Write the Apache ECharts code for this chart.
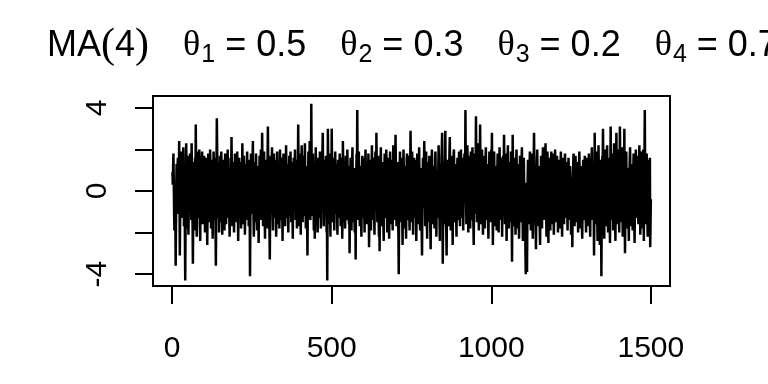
<!DOCTYPE html>
<html><head><meta charset="utf-8">
<script src="https://cdn.jsdelivr.net/npm/echarts@6/dist/echarts.min.js"></script>
<style>html,body{margin:0;padding:0;background:#fff}#c{width:768px;height:384px}</style>
</head><body><div id="c"></div>
<script>
// MA(4) simulated series (t = 1..1500)
const seg01 = [0.9,0.3,1.1,1.8,0.6,-0.8,-1.9,-0.7,0.4,-1.2,-3.6,-1.8,0.2,1.3,0.5,-0.4,1.2,1.6,-0.3,-1.1,
0.7,2.4,0.1,-3.1,-1.4,0.8,1.9,0.3,-0.9,1.5,0.6,-1.3,-0.2,1.4,2.1,0.4,-1.7,-0.6,1.0,-2.3,
-4.3,-1.5,0.9,2.3,1.1,-0.5,-1.8,0.6,1.7,-0.3,-2.1,-0.8,1.3,0.2,-1.0,1.8,0.9,-0.6,0.4,-1.4,
2.3,1.2,-0.7,-1.6,-3.5,-1.1,0.5,1.4,-0.2,-1.9,0.8,1.6,0.3,3.2,1.5,-0.4,-2.2,-0.9,0.7,1.9,
0.2,-1.3,-0.5,1.1,2.0,0.6,-1.7,-2.4,-0.3,1.2,0.4,-0.8,1.5,1.9,-0.1,-1.6,-0.7,0.9,0.3,1.7];
const seg02 = [0.5,-1.1,-2.0,0.2,1.6,0.9,-0.4,1.3,-1.2,-2.6,-0.9,0.7,1.8,0.4,-0.6,1.1,-1.5,-0.3,2.0,0.8,
-0.7,-1.8,0.3,1.5,0.6,-1.0,-2.3,-0.5,1.2,1.9,0.1,-1.4,0.9,-0.2,1.6,-1.9,-3.6,-1.2,1.0,3.5,
2.1,0.4,-1.3,-0.6,1.4,0.2,-2.0,-0.8,0.7,1.7,-0.1,-1.5,0.5,1.9,0.8,-0.9,-2.1,0.3,1.2,-0.4,
1.5,0.6,-1.2,-1.9,0.4,1.8,1.0,-0.5,-1.6,0.2,1.3,-0.7,0.9,2.0,0.1,-1.3,-0.6,1.1,-1.0,-2.2,
-1.4,0.6,1.6,-0.2,0.8,2.6,1.2,-0.8,-1.7,0.3,1.4,0.5,-1.1,-2.0,-0.4,1.0,1.8,0.2,-0.9,0.6];
const seg03 = [-1.5,-0.3,1.2,1.9,0.4,-1.0,-2.4,-0.6,0.8,1.6,0.3,-1.2,0.5,1.4,-0.8,-1.8,0.1,1.1,0.7,2.3,
1.0,-0.5,-1.6,0.2,1.7,0.9,-0.7,-2.1,-1.0,0.6,1.3,-0.2,-1.4,0.8,1.9,0.3,-0.9,1.2,-0.4,-1.7,
0.4,1.5,-0.8,-4.1,-1.6,0.3,1.8,0.7,-1.1,-0.3,1.0,1.6,2.4,0.5,-1.3,-2.2,-0.6,0.9,1.4,-0.2,
-1.5,0.6,1.8,0.2,-1.0,-1.9,0.3,1.2,0.8,-0.6,-2.5,-1.1,0.7,1.7,0.4,-0.8,1.3,2.0,-0.1,-1.4,
0.9,2.8,1.1,-0.4,-1.7,-0.6,1.0,1.9,0.2,-1.2,-2.3,0.5,1.5,0.6,-0.9,1.2,-0.3,-1.8,1.6,3.1];
const seg04 = [1.4,-0.2,-1.5,-0.7,-2.0,-3.3,-1.2,0.6,1.7,0.9,-0.5,1.3,2.1,0.4,-1.1,-1.9,0.2,1.0,1.8,-0.3,
-1.3,0.7,1.5,0.1,-0.8,-2.2,-0.9,0.8,1.9,1.1,-0.4,-1.6,0.3,1.2,-0.6,-1.8,0.5,2.0,0.9,-0.7,
-1.4,0.2,1.6,0.6,-1.0,-2.4,-0.3,1.1,1.8,0.4,-0.9,1.4,-0.1,-1.7,-0.5,0.9,2.2,1.0,-0.6,-1.3,
0.5,1.3,-0.8,-2.0,-0.2,1.0,1.7,0.3,-1.2,0.6,1.9,-0.4,-1.5,0.1,1.4,0.7,-1.1,-2.3,-0.7,0.8,
1.6,0.2,-0.9,1.2,2.0,0.5,-1.4,-0.6,0.9,-0.3,-1.8,0.4,1.5,1.0,3.2,1.3,-0.5,-1.7,0.6,1.8];
const seg05 = [0.3,-1.0,-2.1,-0.4,1.1,2.2,0.8,-0.6,-1.5,0.2,1.7,0.6,-1.2,-0.3,1.4,2.3,0.5,-0.9,-1.8,0.7,
1.2,-0.2,-1.6,-3.1,-1.0,0.6,1.9,1.0,-0.5,1.3,2.4,0.3,-1.4,-0.7,0.9,4.2,1.6,-0.4,-1.2,0.5,
1.8,0.7,-0.8,-1.9,0.1,-1.1,-2.3,-0.4,1.0,2.1,0.6,-0.7,1.2,0.2,-1.5,-2.0,0.4,1.6,0.9,-0.3,
-1.3,0.8,1.9,0.3,-1.0,-1.8,0.5,1.4,-0.2,1.1,2.0,2.8,1.0,-0.6,-1.7,-0.4,0.9,1.5,-0.1,-1.2,
0.6,1.7,-0.5,-2.0,-1.1,-4.3,-0.8,3.0,1.2,-0.3,-1.6,0.4,1.8,0.7,-0.9,-2.2,0.1,1.3,0.5,3.0];
const seg06 = [1.4,-0.4,-1.5,0.2,1.6,0.8,-0.7,-1.9,-0.2,1.0,1.9,0.5,-1.1,-0.4,1.3,0.3,-1.4,-2.1,0.6,1.5,
0.9,-0.6,-1.3,0.4,1.8,1.1,-0.3,-1.7,-0.8,0.7,1.6,-0.5,-2.3,-0.9,2.4,1.2,-0.1,-1.5,0.5,1.4,
-0.2,-1.8,0.3,1.7,0.8,-0.7,-1.4,0.6,2.0,0.4,-1.0,-0.3,1.2,-1.6,-0.8,-3.0,-1.2,0.5,1.6,0.9,
-0.4,-1.9,0.2,1.3,2.1,0.6,-0.9,-1.5,0.8,1.1,-0.6,-2.0,-0.7,-1.1,-3.3,-0.5,1.0,1.8,0.7,3.9,
1.5,-0.3,-1.4,0.4,1.9,0.9,-0.8,-1.7,0.1,1.2,0.6,-1.0,-2.2,-0.4,1.1,1.7,0.3,-1.3,0.8,1.6];
const seg07 = [0.2,-1.1,-2.0,0.5,1.4,2.0,0.7,-0.6,-1.6,0.3,1.2,-0.4,-1.3,0.9,1.8,-0.2,-2.7,-1.2,0.6,1.5,
0.8,-0.7,-1.9,-0.3,1.1,2.2,1.0,-0.5,-1.4,0.4,1.6,0.2,-1.0,-2.1,0.0,1.3,1.9,0.6,-0.8,2.8,
1.2,-0.3,-1.5,0.7,1.7,0.4,-1.2,-2.2,-0.6,-2.9,-1.0,0.8,1.5,2.1,0.3,-0.9,-1.7,0.2,1.4,0.6,
-0.5,-1.8,-2.4,0.1,1.0,1.8,0.7,-0.4,-1.3,0.5,2.0,1.1,-0.6,-2.0,-0.8,0.9,1.6,0.2,-1.1,-2.3,
-0.2,1.2,1.9,0.4,-0.7,-1.6,0.3,1.5,0.8,-1.0,-1.9,0.6,2.2,1.3,-0.2,-1.4,0.1,1.0,1.7,2.7];
const seg08 = [1.1,-0.4,-1.7,-0.8,0.6,1.4,0.2,-1.2,-2.2,-4.0,-1.6,0.3,1.3,1.9,0.5,-0.8,-1.5,0.7,1.6,-0.1,
-1.3,-2.6,-0.7,0.9,2.0,0.8,-0.5,-1.8,0.2,1.2,0.4,-1.0,-2.3,-0.2,1.5,1.8,0.3,-1.4,-0.6,0.9,
1.7,0.5,-1.1,-1.9,0.1,1.3,2.9,1.2,-0.3,-1.5,0.6,1.9,0.7,-0.9,-2.1,-0.4,1.0,1.6,-0.2,-1.3,
0.4,1.5,0.8,-0.7,-2.4,-1.1,0.5,1.8,1.0,-0.5,-1.6,0.3,1.4,2.1,0.6,-1.0,-1.9,0.2,1.1,-0.6,
-1.4,-2.0,-3.1,-0.9,0.7,1.6,0.4,-0.8,1.2,2.4,0.9,-0.4,-1.7,-0.2,1.3,1.9,0.1,-1.2,-2.3,0.5];
const seg09 = [1.4,0.6,-0.7,-1.5,0.3,1.7,0.8,-0.6,-1.9,-2.8,-1.0,0.5,1.6,2.0,0.4,-0.9,-1.6,0.2,1.2,0.7,
-0.5,-1.8,0.1,1.5,1.9,0.6,-1.1,-2.2,-0.3,1.0,0.4,-1.3,-0.6,1.1,2.2,1.0,-0.4,-1.7,-2.4,0.3,
1.3,0.5,-0.8,1.6,2.1,2.8,-0.5,-3.5,-1.4,0.6,1.4,-0.2,-1.6,0.9,1.8,2.9,0.7,-1.2,-2.0,-3.1,
-1.1,0.4,1.5,0.8,-0.6,-1.7,0.2,1.1,1.9,2.6,0.9,-0.7,-1.9,-0.3,1.0,1.7,0.3,-1.0,-2.6,-0.8,
0.7,1.8,2.0,0.5,-0.9,-1.5,0.1,1.3,0.6,-1.2,-2.2,-0.4,0.9,1.6,-0.1,-1.4,-0.6,1.1,1.9,0.4];
const seg10 = [-0.8,-1.7,0.2,1.4,2.0,0.7,-0.5,-1.3,0.6,1.6,-0.2,-1.9,-0.9,0.5,1.2,1.8,0.3,1.0,3.9,1.4,
-0.3,-1.6,0.4,1.5,2.2,0.9,-0.7,-2.0,-0.4,1.1,1.7,0.2,-1.2,-1.8,0.5,1.9,1.0,-0.6,-1.4,0.8,
2.1,0.6,-0.9,-1.7,-2.6,-0.5,1.2,1.8,0.4,-1.1,0.9,3.6,1.5,-0.2,-1.5,0.3,1.6,2.3,0.7,-0.8,
-1.9,-0.6,0.8,1.4,3.2,1.1,-0.4,-1.6,0.5,1.8,2.0,0.3,-1.2,-2.1,-0.2,1.0,1.7,0.6,-1.0,-1.8,
0.4,1.5,2.1,0.8,-0.7,-1.4,0.2,1.3,0.5,-1.1,-2.3,-0.9,0.7,1.9,1.2,-0.3,-1.5,0.1,1.4,2.0];
const seg11 = [0.6,2.8,0.9,-0.8,-2.6,-1.2,0.3,1.5,1.9,0.4,-1.0,-1.7,0.2,1.2,0.7,-0.5,-1.9,-0.3,1.1,1.8,
0.5,-0.9,-2.0,-0.4,1.0,2.1,1.2,-0.2,-1.4,0.3,1.6,0.8,-0.7,-2.2,-0.6,0.9,1.7,0.2,1.3,2.7,
1.0,-0.5,-1.6,0.4,1.8,0.6,-1.1,-2.4,-0.8,0.7,1.5,2.2,0.3,-1.0,-1.8,0.1,1.4,0.9,-0.6,-1.5,
0.5,1.9,0.2,-1.3,-3.4,-1.0,2.7,1.4,-0.3,-1.7,-0.5,1.0,1.6,0.4,-0.9,-2.1,-0.2,1.2,2.0,0.7,
-0.6,-1.8,0.3,1.3,0.8,-0.9,-2.3,-1.1,0.6,1.7,1.1,-0.4,-1.5,0.2,1.5,2.1,0.5,-1.0,-2.4,-0.7];
const seg12 = [0.8,1.6,0.3,-1.2,-2.0,-0.8,-2.9,-4.0,-1.5,0.4,-2.2,-3.9,-1.3,0.6,1.5,0.9,-0.5,-1.6,0.2,1.3,
1.9,0.7,-0.6,-1.9,-0.3,1.0,1.8,0.4,-1.1,-2.3,-0.7,0.8,1.6,2.8,1.1,-0.4,-1.5,-0.9,-1.9,-2.8,
-1.0,0.5,1.4,2.0,0.6,-0.8,-1.7,0.1,1.2,0.8,-0.6,-2.0,-2.6,-0.4,0.9,1.7,0.3,-1.1,-1.8,0.4,
1.5,2.1,0.9,-0.5,-1.4,0.2,1.3,0.6,1.7,2.3,0.8,-0.9,-2.2,-0.6,1.0,1.9,0.5,-1.2,-2.5,-0.3,
0.7,1.6,0.2,-1.0,-1.9,0.3,1.4,1.9,0.4,-0.8,-1.6,0.6,1.8,1.0,-0.5,-2.1,-1.1,0.4,1.2,2.0];
const seg13 = [0.6,-0.7,-1.5,0.1,1.2,1.7,0.4,-0.9,-2.0,-0.5,0.8,1.5,0.2,-1.2,-1.8,0.3,1.1,1.9,0.6,-0.6,
-1.4,-2.2,-0.3,0.9,1.6,0.5,-0.8,-1.6,0.2,1.3,1.8,0.7,-0.4,-1.3,0.4,1.4,0.9,-0.7,-1.9,-0.6,
0.5,1.6,1.0,-0.3,-1.4,0.3,1.2,0.6,-0.9,-2.1,-1.0,0.4,-1.5,-2.7,-0.8,0.7,1.5,1.8,0.2,-1.1,
-1.7,0.1,1.1,1.7,0.5,-0.6,-1.5,0.3,1.4,0.8,-0.5,-2.0,-0.7,0.6,1.3,1.9,0.4,-1.0,-1.8,0.2,
1.2,0.7,-0.4,-1.6,-2.3,-0.6,0.8,1.5,0.3,-0.9,-1.4,0.5,1.7,1.1,-0.2,-1.3,-2.0,-0.4,0.9,1.6];
const seg14 = [0.5,-0.8,-1.7,0.2,1.3,1.8,0.6,-0.7,-1.5,-2.2,-0.4,0.9,1.6,0.4,2.1,1.0,-0.5,-1.4,0.3,1.2,
-1.0,-3.1,-0.9,2.8,1.3,-0.3,-1.6,-0.5,0.8,1.9,0.7,-1.1,-2.4,-0.6,1.0,2.2,0.9,-0.4,-1.8,-2.6,
-0.7,0.6,1.5,-1.2,-4.1,-1.5,0.4,1.7,1.1,3.0,1.2,-0.3,-1.6,-2.3,-0.5,1.0,2.0,0.5,-0.9,-1.7,
0.2,1.4,2.2,0.8,-0.6,-2.0,-1.1,0.5,1.6,0.3,-1.3,-2.5,0.7,3.1,1.5,-0.2,-1.4,0.4,1.8,1.0,
-0.5,-1.9,-0.8,0.9,2.3,1.2,-0.4,-1.5,-2.4,0.1,1.3,2.8,1.0,-0.7,-1.6,0.3,1.5,2.0,0.6,-1.1];
const seg15 = [-2.0,0.6,3.1,1.4,-0.3,-1.5,0.2,1.2,2.1,0.5,-1.0,-2.2,-0.6,0.8,1.7,0.9,3.0,-0.8,-3.0,-1.3,
0.3,1.4,1.9,0.4,-0.9,-1.8,0.1,1.1,0.6,-1.2,-2.4,-0.5,0.8,1.6,2.1,0.3,-1.0,-1.7,0.5,1.3,
0.7,-0.6,-1.9,-0.2,1.0,1.8,0.4,-1.1,-2.5,-0.7,0.6,1.5,2.0,0.2,-1.3,-0.4,0.9,1.7,0.8,-0.9,
-1.6,0.3,1.2,2.2,0.6,-0.8,-2.1,-0.4,1.1,1.9,0.5,-1.2,-1.8,0.2,1.4,2.0,-0.6,-2.4,0.4,1.6,
3.9,1.2,-0.5,-1.6,-0.2,1.0,1.8,0.4,-1.1,-2.2,-0.7,0.8,1.5,0.1,-1.4,-0.6,1.6,-2.7,-1.5,-0.4];

const seriesValues = [].concat(seg01,seg02,seg03,seg04,seg05,seg06,seg07,seg08,seg09,seg10,seg11,seg12,seg13,seg14,seg15);
const xTicks = [0, 500, 1000, 1500];
const yTicks = [-4, -2, 0, 2, 4];
const yLabelValues = [-4, 0, 4];

const chart = echarts.init(document.getElementById('c'), null, {renderer: 'canvas'});
const SANS = '"Liberation Sans", Arial, sans-serif';
const SERIF = '"Liberation Serif", "DejaVu Serif", serif';
chart.setOption({
  animation: false,
  backgroundColor: '#fff',
  title: {
    left: 47, top: 24, padding: 0,
    text: '{n|MA}{p|(}{n|4}{p|)}{w| }{g|θ}{s|1}{n| = 0.5}{w| }{g|θ}{s|2}{n| = 0.3}{w| }{g|θ}{s|3}{n| = 0.2}{w| }{g|θ}{s|4}{n| = 0.7}',
    textStyle: {
      fontWeight: 'normal',
      rich: {
        n: {fontFamily: SANS, fontSize: 36, fontWeight: 'normal', color: '#000', lineHeight: 44},
        w: {fontFamily: SANS, fontSize: 36, fontWeight: 'normal', color: '#000', lineHeight: 44, width: 34},
        p: {fontFamily: SERIF, fontSize: 42, fontWeight: 'normal', color: '#000', lineHeight: 44},
        g: {fontFamily: SERIF, fontSize: 36, fontWeight: 'normal', color: '#000', lineHeight: 44},
        s: {fontFamily: SANS, fontSize: 25, fontWeight: 'normal', color: '#000', lineHeight: 44, padding: [18, 0, 0, 1]}
      }
    }
  },
  grid: {left: 153, right: 98, top: 96, bottom: 98, show: true, borderColor: '#000', borderWidth: 2, backgroundColor: 'transparent'},
  xAxis: {
    type: 'value', min: -60, max: 1560, position: 'bottom',
    axisLine: {show: false, onZero: false},
    splitLine: {show: false},
    axisTick: {show: true, inside: false, customValues: xTicks, length: 18, lineStyle: {color: '#000', width: 2}},
    axisLabel: {customValues: xTicks, inside: false, margin: 48, fontSize: 30, color: '#000', fontFamily: SANS, formatter: v => String(v)}
  },
  yAxis: {
    type: 'value', min: -4.57, max: 4.57, position: 'left',
    axisLine: {show: false, onZero: false},
    splitLine: {show: false},
    axisTick: {show: true, inside: false, customValues: yTicks, length: 18, lineStyle: {color: '#000', width: 2}},
    axisLabel: {customValues: yLabelValues, inside: false, rotate: 90, margin: 40, fontSize: 30, color: '#000', fontFamily: SANS, formatter: v => String(v)}
  },
  series: [{
    type: 'line',
    data: seriesValues.map((v, i) => [i + 1, v]),
    showSymbol: false,
    symbol: 'none',
    lineStyle: {color: '#000', width: 2.5},
    clip: true,
    silent: true
  }]
});
</script>
</body></html>
